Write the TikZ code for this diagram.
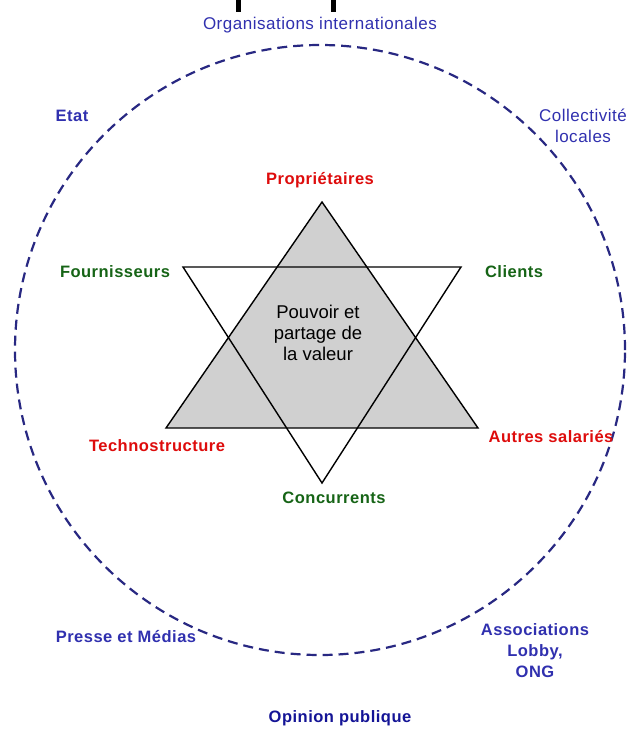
\documentclass[tikz,border=0pt]{standalone}
\usepackage{fontspec}
\setmainfont{Liberation Sans}
\definecolor{lblred}{RGB}{222,12,12}
\definecolor{lblgreen}{RGB}{22,100,22}
\definecolor{lblblue}{RGB}{48,48,175}
\definecolor{darkblue}{RGB}{20,20,150}
\definecolor{ringblue}{RGB}{40,40,130}
\definecolor{stargray}{RGB}{208,208,208}
\begin{document}
\begin{tikzpicture}[x=1pt,y=-1pt,
  lbl/.style={font=\fontsize{16.5}{21}\selectfont\bfseries\addfontfeature{LetterSpace=3}, inner sep=0pt, align=center},
  lblreg/.style={font=\fontsize{17}{21}\selectfont\addfontfeature{LetterSpace=3}, inner sep=0pt, align=center},
  redlbl/.style={lbl, text=lblred},
  greenlbl/.style={lbl, text=lblgreen},
  bluelbl/.style={lbl, text=lblblue},
  bluereg/.style={lblreg, text=lblblue},
  centertext/.style={font=\fontsize{18.5}{21}\selectfont, inner sep=0pt, align=center, text=black},
  starline/.style={draw=black, line width=1.4pt, line join=miter},
  ring/.style={draw=ringblue, line width=2.2pt, dash pattern=on 10pt off 6pt}
]
\useasboundingbox (0,0) rectangle (628,729);
\fill[white] (0,0) rectangle (628,729);

% cut-off marks at the top edge
\fill[black] (235.5,0) rectangle (240.5,12);
\fill[black] (330.5,0) rectangle (335.5,12);

% outer dashed ring
\draw[ring] (320,350) circle[radius=305pt];

% star vertices
\coordinate (uA) at (322,202);
\coordinate (uL) at (166,428);
\coordinate (uR) at (478,428);
\coordinate (dL) at (183,267);
\coordinate (dR) at (461,267);
\coordinate (dB) at (322,483);

\filldraw[starline, fill=stargray] (uA) -- (uL) -- (uR) -- cycle;
\draw[starline] (dL) -- (dR) -- (dB) -- cycle;

\node[centertext] (center) at (318,333) {Pouvoir et\\partage de\\la valeur};

% inner labels
\node[redlbl] (prop) at (320,180) {Propriétaires};
\node[redlbl] (techno) at (157,446) {Technostructure};
\node[redlbl] (autres) at (551,437) {Autres salariés};
\node[greenlbl] (fourn) at (115,272) {Fournisseurs};
\node[greenlbl] (clients) at (514,272) {Clients};
\node[greenlbl] (concur) at (334,498) {Concurrents};

% outer labels
\node[bluereg] (orgint) at (320,25) {Organisations internationales};
\node[bluelbl] (etat) at (72,116) {Etat};
\node[bluereg] (collect) at (583,126) {Collectivité\\locales};
\node[bluelbl] (presse) at (126,637) {Presse et Médias};
\node[bluelbl] (assoc) at (535,651) {Associations\\Lobby,\\ONG};
\node[lbl, text=darkblue] (opinion) at (340,718) {Opinion publique};
\end{tikzpicture}
\end{document}
